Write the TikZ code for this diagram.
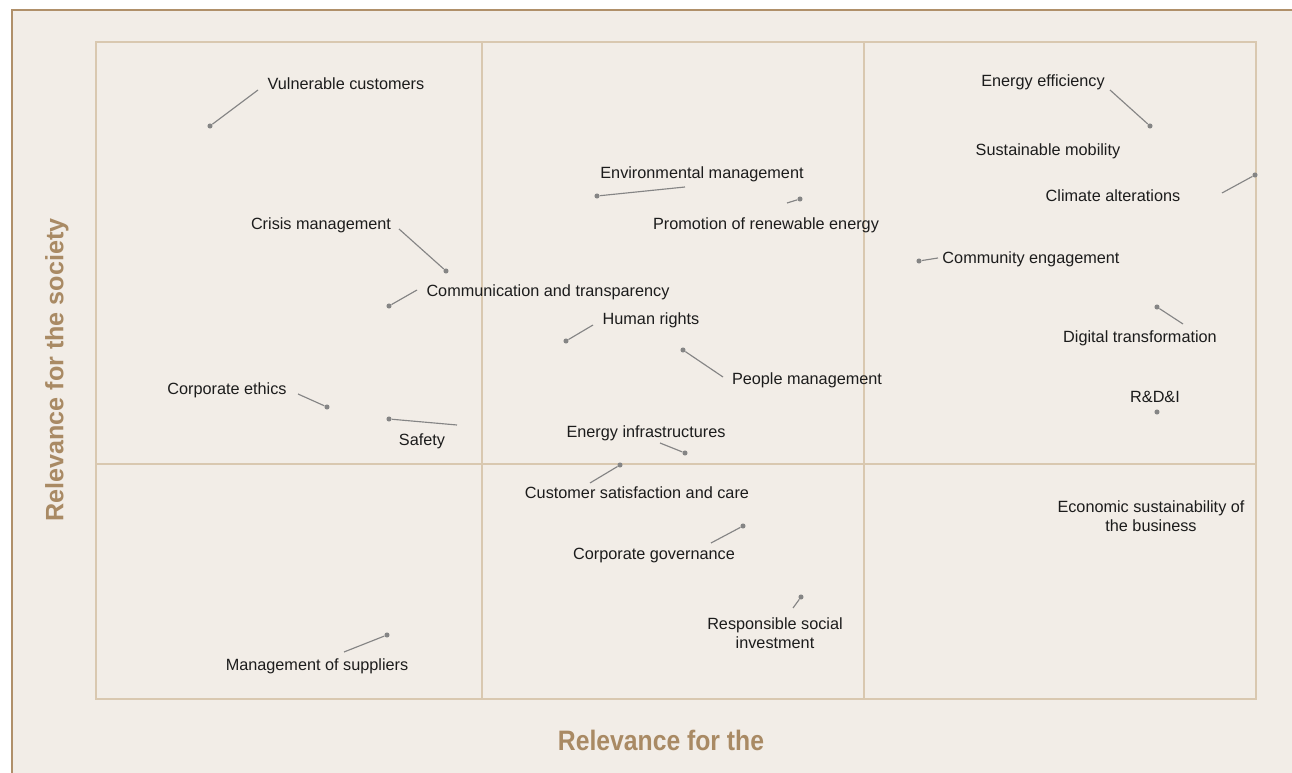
\documentclass[tikz,border=0pt]{standalone}
\usepackage{fontspec}
\setmainfont{Liberation Sans}
\newfontfamily\narrowSans[FakeStretch=0.88]{Liberation Sans}
\usetikzlibrary{positioning}
\definecolor{panelColor}{HTML}{F2EDE7}
\definecolor{frameColor}{HTML}{B0906A}
\definecolor{gridColor}{HTML}{D9C8B0}
\definecolor{axisColor}{HTML}{A98A64}
\definecolor{dotColor}{HTML}{858585}
\definecolor{textColor}{HTML}{1C1C1C}
\tikzset{
  ptDot/.style={circle, fill=dotColor, inner sep=0pt, minimum size=2.9pt},
  leader/.style={dotColor, line width=0.65pt},
  lbl/.style={font=\fontsize{9.25}{10.8}\selectfont, text=textColor, inner sep=0pt, align=center, yshift=-1.1pt},
  axisLbl/.style={font=\bfseries\fontsize{14.3}{17}\selectfont, text=axisColor, inner sep=0pt}
}

\begin{document}
\begin{tikzpicture}[x=0.02cm, y=-0.02cm]
    \useasboundingbox (0,0) rectangle (1292,773);
    \fill [white] (0,0) rectangle (1292,773);
    \fill [panelColor] (12,10) rectangle (1292,773);
    \draw [frameColor, line width=1.1pt] (12,773) -- (12,10) -- (1292,10);
    % quadrants
    \draw [gridColor, line width=0.85pt] (96,42) rectangle (1256,699);
    \draw [gridColor, line width=0.85pt] (482,42) -- (482,699);
    \draw [gridColor, line width=0.85pt] (864,42) -- (864,699);
    \draw [gridColor, line width=0.85pt] (96,464) -- (1256,464);
    % axes
    \node [axisLbl, rotate=90] (societyAxis) at (57,370) {Relevance for the society};
    \node [axisLbl, font=\narrowSans\bfseries\fontsize{16}{18}\selectfont] (businessAxis) at (661,740) {Relevance for the};
    % topics
    \node [lbl] (vulnerable) at (346,82) {Vulnerable customers};
    \node [lbl] (efficiency) at (1043,80) {Energy efficiency};
    \node [lbl] (mobility) at (1048,149) {Sustainable mobility};
    \node [lbl] (climate) at (1113,194) {Climate alterations};
    \node [lbl] (environment) at (702,172) {Environmental management};
    \node [lbl] (renewable) at (766,223) {Promotion of renewable energy};
    \node [lbl] (crisis) at (321,223) {Crisis management};
    \node [lbl] (community) at (1031,257) {Community engagement};
    \node [lbl] (communication) at (548,290) {Communication and transparency};
    \node [lbl] (rights) at (651,318) {Human rights};
    \node [lbl] (digital) at (1140,336) {Digital transformation};
    \node [lbl] (people) at (807,378) {People management};
    \node [lbl] (ethics) at (227,388) {Corporate ethics};
    \node [lbl] (rdi) at (1155,395) {R\&D\&I};
    \node [lbl] (safety) at (422,439) {Safety};
    \node [lbl] (infrastructure) at (646,431) {Energy infrastructures};
    \node [lbl] (customer) at (637,491) {Customer satisfaction and care};
    \node [lbl] (governance) at (654,554) {Corporate governance};
    \node [lbl] (economic) at (1151,514) {Economic sustainability of\\the business};
    \node [lbl] (social) at (775,631) {Responsible social\\investment};
    \node [lbl] (suppliers) at (317,664) {Management of suppliers};
    % dots
    \node [ptDot] (vulnerableDot) at (210,126) {};
    \node [ptDot] (efficiencyDot) at (1150,126) {};
    \node [ptDot] (climateDot) at (1255,175) {};
    \node [ptDot] (environmentDot) at (597,196) {};
    \node [ptDot] (renewableDot) at (800,199) {};
    \node [ptDot] (crisisDot) at (446,271) {};
    \node [ptDot] (communityDot) at (919,261) {};
    \node [ptDot] (communicationDot) at (389,306) {};
    \node [ptDot] (rightsDot) at (566,341) {};
    \node [ptDot] (digitalDot) at (1157,307) {};
    \node [ptDot] (peopleDot) at (683,350) {};
    \node [ptDot] (ethicsDot) at (327,407) {};
    \node [ptDot] (rdiDot) at (1157,412) {};
    \node [ptDot] (safetyDot) at (389,419) {};
    \node [ptDot] (infrastructureDot) at (685,453) {};
    \node [ptDot] (customerDot) at (620,465) {};
    \node [ptDot] (governanceDot) at (743,526) {};
    \node [ptDot] (socialDot) at (801,597) {};
    \node [ptDot] (suppliersDot) at (387,635) {};
    % leader ends
    \coordinate (vulnerableEnd) at (258,90);
    \coordinate (efficiencyEnd) at (1110,90);
    \coordinate (climateEnd) at (1222,193);
    \coordinate (environmentEnd) at (685,187);
    \coordinate (renewableEnd) at (787,203);
    \coordinate (crisisEnd) at (399,229);
    \coordinate (communityEnd) at (938,258);
    \coordinate (communicationEnd) at (417,290);
    \coordinate (rightsEnd) at (593,325);
    \coordinate (digitalEnd) at (1183,324);
    \coordinate (peopleEnd) at (723,377);
    \coordinate (ethicsEnd) at (298,394);
    \coordinate (safetyEnd) at (457,425);
    \coordinate (infrastructureEnd) at (660,443);
    \coordinate (customerEnd) at (590,483);
    \coordinate (governanceEnd) at (711,543);
    \coordinate (socialEnd) at (793,608);
    \coordinate (suppliersEnd) at (344,652);
    \draw [leader] (vulnerableEnd) -- (vulnerableDot);
    \draw [leader] (efficiencyEnd) -- (efficiencyDot);
    \draw [leader] (climateEnd) -- (climateDot);
    \draw [leader] (environmentEnd) -- (environmentDot);
    \draw [leader] (renewableEnd) -- (renewableDot);
    \draw [leader] (crisisEnd) -- (crisisDot);
    \draw [leader] (communityEnd) -- (communityDot);
    \draw [leader] (communicationEnd) -- (communicationDot);
    \draw [leader] (rightsEnd) -- (rightsDot);
    \draw [leader] (digitalEnd) -- (digitalDot);
    \draw [leader] (peopleEnd) -- (peopleDot);
    \draw [leader] (ethicsEnd) -- (ethicsDot);
    \draw [leader] (safetyEnd) -- (safetyDot);
    \draw [leader] (infrastructureEnd) -- (infrastructureDot);
    \draw [leader] (customerEnd) -- (customerDot);
    \draw [leader] (governanceEnd) -- (governanceDot);
    \draw [leader] (socialEnd) -- (socialDot);
    \draw [leader] (suppliersEnd) -- (suppliersDot);
  \end{tikzpicture}
\end{document}
